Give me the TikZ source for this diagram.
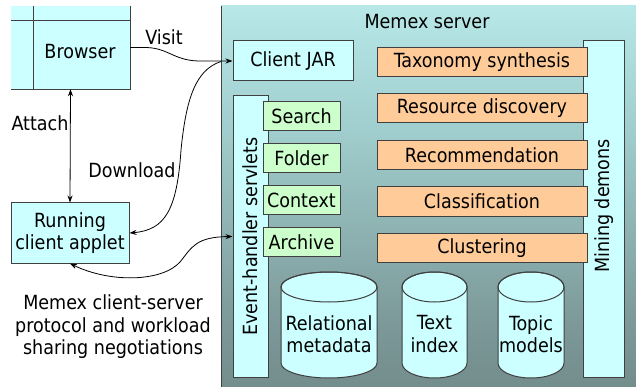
\documentclass[tikz,border=0pt]{standalone}
\usepackage{fontspec}
\setmainfont{DejaVu Sans Condensed}
\usetikzlibrary{arrows.meta,calc}
\definecolor{cyanf}{HTML}{CCFFFF}
\definecolor{greenf}{HTML}{CCFFCC}
\definecolor{orangef}{HTML}{FFCC99}
\definecolor{lncol}{HTML}{404040}
\definecolor{srvhi}{HTML}{C2F2F2}
\definecolor{srvmid}{HTML}{A2D0D0}
\definecolor{srvlow}{HTML}{7C9898}
\definecolor{srvbot}{HTML}{5A6A6A}
\pgfdeclareverticalshading{srvshade}{100bp}{color(0bp)=(srvbot); color(33bp)=(srvlow); color(60bp)=(srvmid); color(82bp)=(srvhi); color(100bp)=(cyanf)}
\tikzset{
  ln/.style={draw=lncol, line width=1pt},
  cbox/.style={ln, fill=cyanf, inner sep=0pt, align=center},
  gbox/.style={ln, fill=greenf, inner sep=0pt, minimum width=77, minimum height=29},
  obox/.style={ln, fill=orangef, inner sep=0pt, minimum width=210, minimum height=29},
  lbl/.style={inner sep=0pt, align=center},
  conn/.style={draw=black, line width=0.8pt},
  tipa/.tip={Stealth[length=7pt,width=5pt]},
}
\newcommand{\mycyl}[4]{% center x, half width, top y, bottom y
  \filldraw[ln, fill=cyanf] (#1-#2,#3+15) -- (#1-#2,#4-15)
    arc[start angle=180, end angle=0, x radius=#2, y radius=15]
    -- (#1+#2,#3+15)
    arc[start angle=0, end angle=-180, x radius=#2, y radius=15] -- cycle;
  \draw[ln] (#1,#3+15) ellipse[x radius=#2, y radius=15];
}
\begin{document}
\begin{tikzpicture}[x=1pt,y=-1pt,font=\fontsize{19.5}{22.5}\selectfont]
\useasboundingbox (0,0) rectangle (636,387);
% server background
\shade[shading=srvshade] (221,6) rectangle (636,387);
\draw[ln] (221,6) -- (221,387);
\node[lbl] (srvlbl) at (427,22) {Memex server};

% browser window
\node[fill=cyanf, inner sep=0pt, minimum width=119, minimum height=83] (browser) at (70.5,47.5) {};
\draw[ln] (browser.north east) -- (browser.south east) -- (browser.south west);
\draw[ln] (33,6) -- (33,89);
\draw[ln] (11,21) -- (130,21);
\node[lbl] (browsertxt) at (80,52) {Browser};

% running applet
\node[cbox, minimum width=118, minimum height=60] (app) at (70,233) {Running\\client applet};

% client JAR
\node[cbox, minimum width=120, minimum height=40] (cjar) at (293,61) {Client JAR};

% event handler servlets
\node[cbox, minimum width=35, minimum height=281] (evh) at (250.5,236.5) {};
\node[lbl, rotate=90] (evhtxt) at (250.5,236.5) {Event-handler servlets};

% mining demons
\node[cbox, minimum width=41, minimum height=336] (mine) at (603.5,209) {};
\node[lbl, rotate=90] (minetxt) at (604,206) {Mining demons};

% green servlet boxes
\node[gbox] (search) at (301.5,116) {Search};
\node[gbox] (folder) at (301.5,158) {Folder};
\node[gbox] (context) at (301.5,200) {Context};
\node[gbox] (archive) at (301.5,242) {Archive};

% orange mining boxes
\node[obox] (tax) at (482,62) {Taxonomy synthesis};
\node[obox] (res) at (482,108) {Resource discovery};
\node[obox] (rec) at (482,155) {Recommendation};
\node[obox] (cls) at (482,201.5) {Classification};
\node[obox] (clu) at (482,248) {Clustering};

% cylinders
\mycyl{329}{48}{272}{378}
\mycyl{434.5}{32.5}{272}{378}
\mycyl{531}{33}{272}{378}
\node[lbl] (rel) at (329,334) {Relational\\metadata};
\node[lbl] (txt) at (434.5,334) {Text\\index};
\node[lbl] (top) at (531,334) {Topic\\models};

% connectors
\draw[conn, -{tipa}] (browser.east) -- (143,47.5) .. controls (168,47) and (172,60) .. (198,61) -- (cjar.west);
\coordinate (dl) at (221,61.5);
\draw[conn, -{tipa}] (dl) .. controls (195,70) and (186,100) .. (181,150) .. controls (177,210) and (165,230) .. (app.east);
\draw[conn, {tipa}-{tipa}] (app.south) .. controls (110,283) and (162,282) .. (180,262) .. controls (192,247) and (196,237) .. (evh.west);
\draw[conn, {tipa}-{tipa}] (browser.south) -- (app.north);

% labels
\node[lbl] (visit) at (164,37) {Visit};
\node[lbl] (attach) at (40,123) {Attach};
\node[lbl] (download) at (132,170) {Download};
\node[lbl] (proto) at (113,327) {Memex client-server\\protocol and workload\\sharing negotiations};
\end{tikzpicture}
\end{document}
